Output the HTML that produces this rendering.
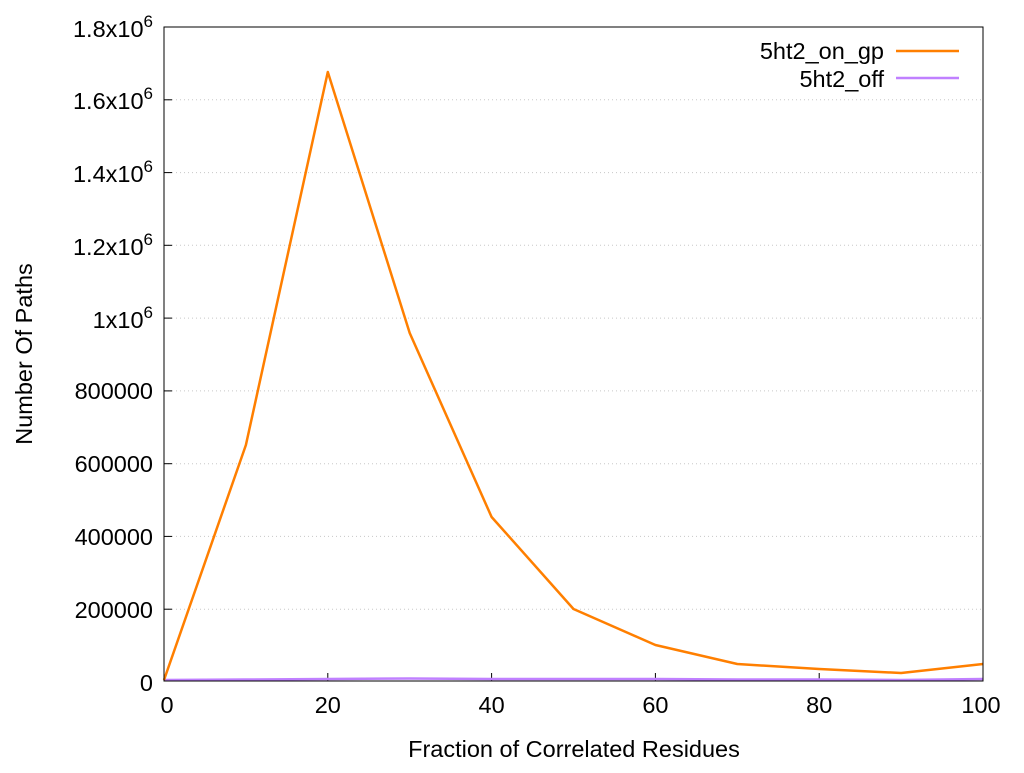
<!DOCTYPE html>
<html><head><meta charset="utf-8"><style>html,body{margin:0;padding:0;background:#fff}</style></head>
<body>
<svg width="1024" height="768" xmlns="http://www.w3.org/2000/svg" font-family="Liberation Sans, sans-serif" font-size="23.5">
<rect width="1024" height="768" fill="#fff"/>
<g stroke="#c8c8c8" stroke-dasharray="1,3" stroke-width="1">
<line x1="164" x2="983" y1="99.8" y2="99.8"/>
<line x1="164" x2="983" y1="172.6" y2="172.6"/>
<line x1="164" x2="983" y1="245.3" y2="245.3"/>
<line x1="164" x2="983" y1="318.1" y2="318.1"/>
<line x1="164" x2="983" y1="390.9" y2="390.9"/>
<line x1="164" x2="983" y1="463.7" y2="463.7"/>
<line x1="164" x2="983" y1="536.4" y2="536.4"/>
<line x1="164" x2="983" y1="609.2" y2="609.2"/>
</g>
<g stroke="#000" stroke-width="1">
<line x1="164" x2="172" y1="99.8" y2="99.8"/><line x1="164" x2="172" y1="172.6" y2="172.6"/>
<line x1="164" x2="172" y1="245.3" y2="245.3"/><line x1="164" x2="172" y1="318.1" y2="318.1"/>
<line x1="164" x2="172" y1="390.9" y2="390.9"/><line x1="164" x2="172" y1="463.7" y2="463.7"/>
<line x1="164" x2="172" y1="536.4" y2="536.4"/><line x1="164" x2="172" y1="609.2" y2="609.2"/>
<line x1="327.8" x2="327.8" y1="681" y2="673"/><line x1="491.6" x2="491.6" y1="681" y2="673"/>
<line x1="655.4" x2="655.4" y1="681" y2="673"/><line x1="819.2" x2="819.2" y1="681" y2="673"/>
</g>
<polyline fill="none" stroke="#c080ff" stroke-width="2.5" points="164,680 245.9,679.5 327.8,679 409.7,678.5 491.6,679 573.5,679 655.4,679 737.3,679.5 819.2,679.5 901.1,680 983,679"/>
<polyline fill="none" stroke="#ff7f00" stroke-width="2.5" stroke-linejoin="round" points="164,680 245.9,445 327.8,72 409.7,333 491.6,517 573.5,609 655.4,645 737.3,664 819.2,669 901.1,673 983,664"/>
<rect x="164" y="27" width="819" height="654" fill="none" stroke="#000" stroke-width="1"/>
<g text-anchor="end">
<text x="153" y="37">1.8x10<tspan dy="-10" font-size="17">6</tspan></text>
<text x="153" y="109">1.6x10<tspan dy="-10" font-size="17">6</tspan></text>
<text x="153" y="182">1.4x10<tspan dy="-10" font-size="17">6</tspan></text>
<text x="153" y="255">1.2x10<tspan dy="-10" font-size="17">6</tspan></text>
<text x="153" y="328">1x10<tspan dy="-10" font-size="17">6</tspan></text>
<text x="153" y="399">800000</text>
<text x="153" y="472">600000</text>
<text x="153" y="545">400000</text>
<text x="153" y="618">200000</text>
<text x="153" y="691">0</text>
<text x="884" y="59">5ht2_on_gp</text>
<text x="884" y="87">5ht2_off</text>
</g>
<g text-anchor="middle">
<text x="167" y="713">0</text><text x="327.8" y="713">20</text><text x="491.6" y="713">40</text>
<text x="655.4" y="713">60</text><text x="819.2" y="713">80</text><text x="981" y="713">100</text>
<text x="574" y="757">Fraction of Correlated Residues</text>
<text transform="translate(32,354) rotate(-90)">Number Of Paths</text>
</g>
<line x1="896" x2="959" y1="51" y2="51" stroke="#ff7f00" stroke-width="2.5"/>
<line x1="896" x2="959" y1="78" y2="78" stroke="#c080ff" stroke-width="2.5"/>
</svg>
</body></html>
